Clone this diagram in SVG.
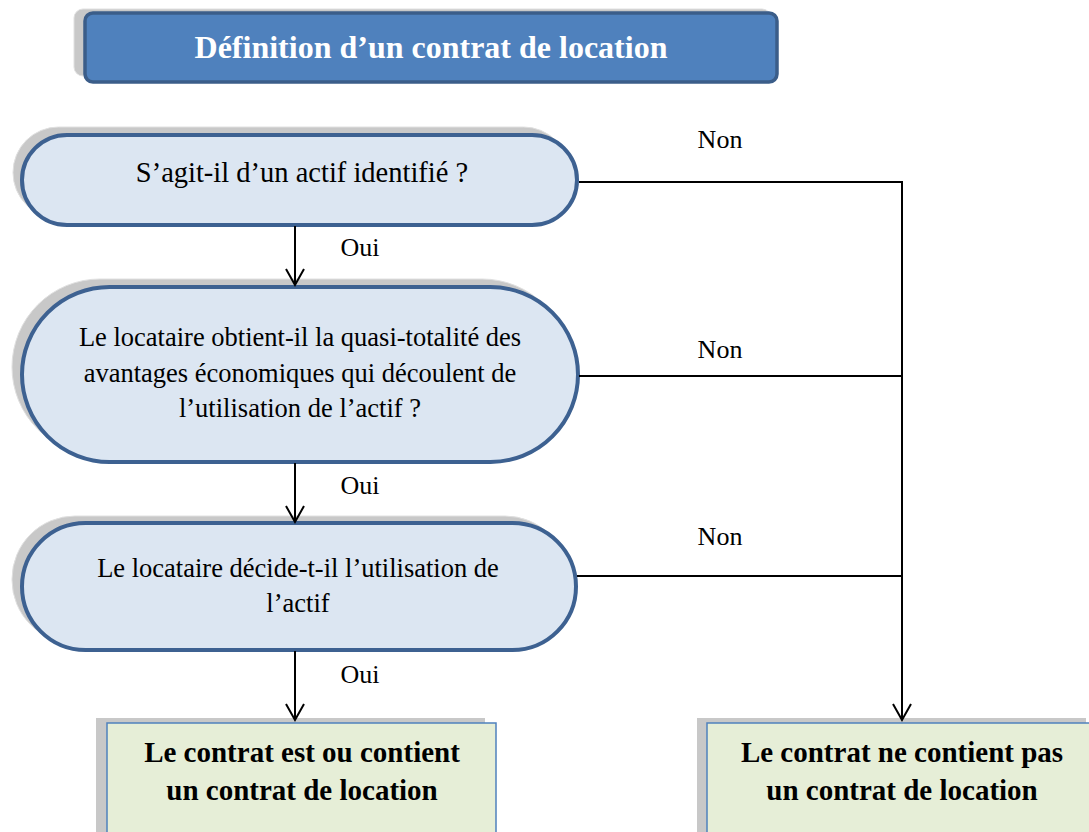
<svg xmlns="http://www.w3.org/2000/svg" width="1089" height="832" viewBox="0 0 1089 832">
<style>
.sh{fill:#c8c8c8;stroke:#e0e0e0;stroke-width:1}
.dec{fill:#dce6f2;stroke:#3d6191;stroke-width:4}
text{font-family:"Liberation Serif","Times New Roman","DejaVu Serif",serif}
.t{font-size:26.5px;fill:#000;text-anchor:middle}
.t1{font-size:28.5px;fill:#000;text-anchor:middle}
.lbl{font-size:26px;fill:#000;text-anchor:middle}
.b{font-size:29px;font-weight:bold;fill:#000;text-anchor:middle}
.ttl{font-size:32px;font-weight:bold;fill:#fff;text-anchor:middle}
.res{fill:#e6eed7;stroke:#4f81bd;stroke-width:1.5}
.c{fill:none;stroke:#000;stroke-width:2}
</style>
<defs>
<marker id="ah" markerWidth="20" markerHeight="22" refX="17" refY="11" orient="auto" markerUnits="userSpaceOnUse" viewBox="0 0 20 22">
<path d="M1,2 L17,11 L1,20" fill="none" stroke="#000" stroke-width="2"/>
</marker>
</defs>
<g id="title">
<rect class="sh" x="74" y="9" width="697" height="67" rx="9"/>
<rect x="85" y="13" width="692" height="69" rx="8" fill="#4f81bd" stroke="#3b5d89" stroke-width="3.5"/>
<text class="ttl" x="431" y="58">Définition d’un contrat de location</text>
</g>
<g id="q1">
<rect class="sh" x="13" y="127" width="556" height="91" rx="45.5"/>
<rect class="dec" x="22" y="135" width="555" height="90" rx="45"/>
<text class="t1" x="302" y="182">S’agit-il d’un actif identifié ?</text>
</g>
<g id="q2">
<rect class="sh" x="12" y="279" width="558" height="176" rx="88"/>
<rect class="dec" x="22" y="287" width="556" height="175" rx="87.5"/>
<text class="t" x="300" y="346">Le locataire obtient-il la quasi-totalité des</text>
<text class="t" x="300" y="382">avantages économiques qui découlent de</text>
<text class="t" x="300" y="417">l’utilisation de l’actif ?</text>
</g>
<g id="q3">
<rect class="sh" x="12" y="516" width="556" height="127" rx="63"/>
<rect class="dec" x="22" y="523" width="554" height="127" rx="63.5"/>
<text class="t" x="298" y="577">Le locataire décide-t-il l’utilisation de</text>
<text class="t" x="298" y="612">l’actif</text>
</g>
<g id="r1">
<rect x="96" y="718" width="389" height="120" fill="#c8c8c8"/>
<rect class="res" x="107" y="723" width="389" height="116"/>
<text class="b" x="302" y="762">Le contrat est ou contient</text>
<text class="b" x="302" y="800">un contrat de location</text>
</g>
<g id="r2">
<rect x="697" y="718" width="389" height="120" fill="#c8c8c8"/>
<rect class="res" x="707" y="723" width="388" height="116"/>
<text class="b" x="902" y="762">Le contrat ne contient pas</text>
<text class="b" x="902" y="800">un contrat de location</text>
</g>
<g id="connectors">
<line class="c" x1="295" y1="226" x2="295" y2="285" marker-end="url(#ah)"/>
<line class="c" x1="295" y1="463" x2="295" y2="522" marker-end="url(#ah)"/>
<line class="c" x1="295" y1="651" x2="295" y2="720" marker-end="url(#ah)"/>
<line class="c" x1="579" y1="182" x2="902" y2="182"/>
<line class="c" x1="579" y1="376" x2="902" y2="376"/>
<line class="c" x1="577" y1="576" x2="902" y2="576"/>
<line class="c" x1="902" y1="181" x2="902" y2="720" marker-end="url(#ah)"/>
<text class="lbl" x="360" y="256">Oui</text>
<text class="lbl" x="360" y="494">Oui</text>
<text class="lbl" x="360" y="683">Oui</text>
<text class="lbl" x="720" y="148">Non</text>
<text class="lbl" x="720" y="358">Non</text>
<text class="lbl" x="720" y="545">Non</text>
</g>
</svg>
